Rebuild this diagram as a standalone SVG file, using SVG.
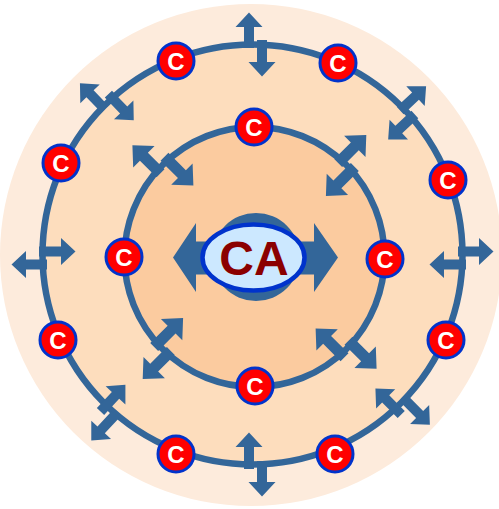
<svg xmlns="http://www.w3.org/2000/svg" xmlns:xlink="http://www.w3.org/1999/xlink" width="499" height="509" viewBox="0 0 499 509">
  <style>
    .ring { fill: none; stroke: #336699; stroke-width: 6.5; }
    .arr { fill: #336699; }
    .node circle { fill: #FF0000; stroke: #0033CC; stroke-width: 3; }
    .node text { fill: #FFFFFF; font-family: "Liberation Sans", Arial, sans-serif; font-weight: bold; font-size: 24px; text-anchor: middle; }
    .ca { fill: #8B0000; font-family: "Liberation Sans", Arial, sans-serif; font-weight: bold; font-size: 48px; text-anchor: middle; }
  </style>
  <defs>
    <g id="split">
      <polygon points="-4,-11.5 17,-11.5 17,-20 31.5,-6.5 17,7 17,-1.5 -4,-1.5"/>
      <polygon points="4,1.5 -18,1.5 -18,-7 -32.5,6.5 -18,20 -18,11.5 4,11.5"/>
    </g>
  </defs>

  <g id="background">
    <circle cx="251" cy="255" r="251" fill="#FDEBDC"/>
    <circle cx="252.5" cy="254.5" r="210" fill="#FDDDBD"/>
    <circle cx="254.5" cy="257" r="130" fill="#FBCB9F"/>
  </g>

  <g id="connectors">
    <circle class="ring" cx="252.5" cy="254.5" r="210"/>
    <circle class="ring" cx="254.5" cy="257" r="130"/>
    <g class="arr">
      <use xlink:href="#split" transform="translate(255.5,44) rotate(-90)"/>
      <use xlink:href="#split" transform="translate(462,258)"/>
      <use xlink:href="#split" transform="translate(255.5,465) rotate(90)"/>
      <use xlink:href="#split" transform="translate(43,258) rotate(180)"/>
      <use xlink:href="#split" transform="translate(407.5,112.5) rotate(-43)"/>
      <use xlink:href="#split" transform="translate(106.5,101.5) rotate(-134)"/>
      <use xlink:href="#split" transform="translate(108,413) rotate(133)"/>
      <use xlink:href="#split" transform="translate(403,407) rotate(45)"/>
      <use xlink:href="#split" transform="translate(162.5,165) rotate(-135) scale(1.12)"/>
      <use xlink:href="#split" transform="translate(346.5,165) rotate(-45) scale(1.12)"/>
      <use xlink:href="#split" transform="translate(162.5,349) rotate(135) scale(1.12)"/>
      <use xlink:href="#split" transform="translate(346.5,349) rotate(45) scale(1.12)"/>
    </g>
  </g>

  <g id="center">
    <circle cx="256" cy="257" r="44" fill="#336699"/>
    <polygon class="arr" points="173,257.5 196,223 196,241.5 314,241.5 314,223 338,257.5 314,292 314,274.5 196,274.5 196,292"/>
    <ellipse cx="253.5" cy="257.5" rx="51" ry="33" fill="#CCE8FF" stroke="#0033CC" stroke-width="4.5"/>
    <text class="ca" x="254" y="275">CA</text>
  </g>

  <g id="n1" class="node"><circle cx="176" cy="61" r="18"/><text x="176" y="69.5">C</text></g>
  <g id="n2" class="node"><circle cx="338" cy="63" r="18"/><text x="338" y="71.5">C</text></g>
  <g id="n3" class="node"><circle cx="61" cy="163" r="18"/><text x="61" y="171.5">C</text></g>
  <g id="n4" class="node"><circle cx="448" cy="180" r="18"/><text x="448" y="188.5">C</text></g>
  <g id="n5" class="node"><circle cx="58" cy="340" r="18"/><text x="58" y="348.5">C</text></g>
  <g id="n6" class="node"><circle cx="446" cy="340" r="18"/><text x="446" y="348.5">C</text></g>
  <g id="n7" class="node"><circle cx="176" cy="454" r="18"/><text x="176" y="462.5">C</text></g>
  <g id="n8" class="node"><circle cx="335" cy="454" r="18"/><text x="335" y="462.5">C</text></g>
  <g id="n9" class="node"><circle cx="254" cy="127" r="18"/><text x="254" y="135.5">C</text></g>
  <g id="n10" class="node"><circle cx="124" cy="257" r="18"/><text x="124" y="265.5">C</text></g>
  <g id="n11" class="node"><circle cx="385" cy="259" r="18"/><text x="385" y="267.5">C</text></g>
  <g id="n12" class="node"><circle cx="255" cy="386" r="18"/><text x="255" y="394.5">C</text></g>
</svg>
